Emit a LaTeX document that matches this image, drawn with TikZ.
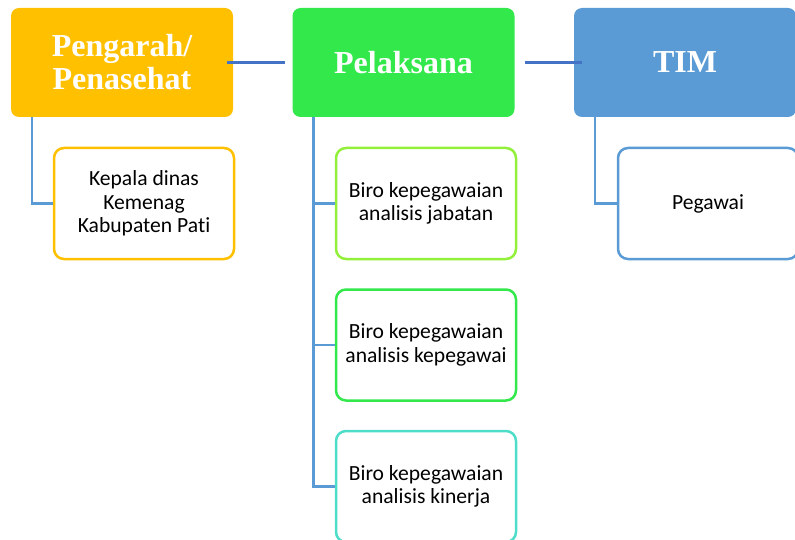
\documentclass[tikz,border=0pt]{standalone}
\usepackage{fontspec}
\setmainfont{Liberation Serif}
\newfontfamily\bodyfont[RawFeature=-liga]{Carlito}
\usetikzlibrary{positioning, calc}
\definecolor{amberbox}{RGB}{255, 192, 0}
\definecolor{leafgreen}{RGB}{50, 232, 75}
\definecolor{steelblue}{RGB}{91, 155, 213}
\definecolor{linkblue}{RGB}{68, 114, 196}
\definecolor{limegreen}{RGB}{146, 240, 58}
\definecolor{aquateal}{RGB}{77, 221, 200}

\begin{document}
\begin{tikzpicture}[x=1pt, y=-1pt,
  headbox/.style={fill=#1, rounded corners=8pt, minimum width=222pt, minimum height=109pt,
    inner sep=0pt, text=white, align=center, font=\fontsize{32}{33}\selectfont\bfseries},
  subbox/.style={draw=#1, line width=2.5pt, fill=white, rounded corners=10pt,
    minimum width=180pt, minimum height=111pt, inner sep=0pt, align=center,
    font=\bodyfont\fontsize{21.6}{23.5}\selectfont},
  trunk/.style={steelblue, line width=2.5pt},
  link/.style={linkblue, line width=2.5pt}]
  \useasboundingbox (0,0) rectangle (795,540);
  \clip (0,0) rectangle (795,540);
  % Top row - the three groups
  \node[headbox=amberbox] (peng) at (122,62.5) {Pengarah/\\Penasehat};
  \node[headbox=leafgreen] (pel) at (403.5,62.5) {Pelaksana};
  \node[headbox=steelblue] (tim) at (685,62.5) {TIM};
  % Members under each group
  \node[subbox=amberbox] (kepala) at (144,203.5) {Kepala dinas\\Kemenag\\Kabupaten Pati};
  \foreach \txt/\col/\y [count=\i] in {analisis jabatan/limegreen/203.5,
      analisis kepegawai/leafgreen/345, analisis kinerja/aquateal/486.5} {
    \node[subbox=\col] (biro\i) at (426,\y) {Biro kepegawaian\\\txt};
  }
  \node[subbox=steelblue] (pegawai) at (708,203.5) {Pegawai};
  % Links between the groups
  \draw[link, shorten <=-6pt, shorten >=7pt] (peng.east) -- (pel.west);
  \draw[link, shorten <=10pt, shorten >=-8pt] (pel.east) -- (tim.west);
  % Trunks down to the members
  \draw[trunk] (peng.south west) ++(21,0) |- (kepala.west);
  \foreach \i in {1,2,3} {
    \draw[trunk] (pel.south west) ++(21,0) |- (biro\i.west);
  }
  \draw[trunk] (tim.south west) ++(21,0) |- (pegawai.west);
\end{tikzpicture}
\end{document}
